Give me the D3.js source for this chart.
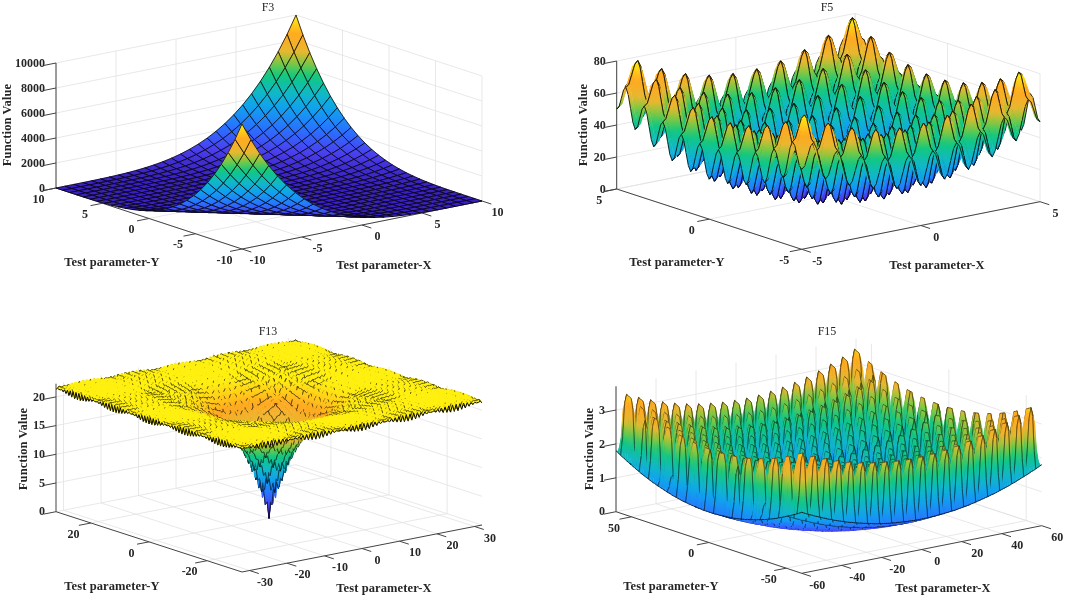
<!DOCTYPE html>
<html lang="en">
<head>
<meta charset="UTF-8">
<title>Benchmark surfaces</title>
<script src="https://d3js.org/d3.v7.min.js"></script>
<style>
    html, body {margin: 0; background: #fff;}
    #stage {position: relative; width: 1065px; height: 597px; overflow: hidden; filter: blur(.3px);}
    #stage svg, #stage canvas {position: absolute; left: 0; top: 0;}
    text {font-family: "Liberation Serif", serif; fill: #262626;}
    .tick {font-size: 12px; font-weight: bold;}
    .label {font-size: 12.5px; font-weight: bold; letter-spacing: .1px;}
    .title {font-size: 12px;}
</style>
</head>
<body>
<div id="stage"></div>
<script>
    const width = 1065;
    const height = 597;

    // F3: height against the distance from the valley diagonal (grid steps)
    const f3Profile = [0, 0, 0, 2, 5, 12, 24, 45, 77, 123, 188, 275, 390, 537, 723, 953, 1233, 1572, 1975, 2452, 3010, 3660, 4408, 5266, 6243, 7350, 8600, 10000];

    // F5: one axis cross-section, every 0.125 from the centre to the edge
    const f5Profile = [0, 2.9, 10.1, 17.2, 20.3, 17.5, 10.6, 3.7, 1, 4.2, 11.6, 19, 22.3, 19.7, 13.1, 6.5, 4, 7.5, 15.1, 22.7, 26.3, 24, 17.6, 11.2, 9, 12.7, 20.6, 28.5, 32.3, 30.2, 24.1, 18, 16, 20, 28.1, 36.2, 40.3, 38.5, 32.6, 26.7, 25];

    // F13: funnel height against radius, plus the ripple gain over one fold of the sampling beat
    const f13Radius = [0, 1, 2, 3, 4, 6, 8, 10, 12, 14, 16, 18, 20, 24, 28, 32];
    const f13Funnel = [0, 3.63, 6.59, 9.02, 11.01, 13.98, 15.96, 17.29, 18.19, 18.79, 19.18, 19.45, 19.63, 19.84, 19.93, 19.97];
    const f13Gain = [1.649, 0.609, 1.623, 0.628, 1.55, 0.667, 1.44, 0.727, 1.307, 0.808, 1.167, 0.911, 1.032];

    // F15: bowl cross-section and the tooth shape along each axis
    const f15Bowl = [0, 0, 0, 0, 0, .01, .01, .01, .02, .02, .03, .03, .04, .04, .05, .06, .06, .07, .08, .09, .1, .11, .12, .13, .14, .16, .17, .18, .2, .21, .23, .24, .26, .27, .29, .31, .32, .34, .36, .38, .4, .42, .44, .46, .48, .51, .53, .55, .58, .6, .63, .65, .68, .7, .73, .76, .78, .81, .84, .87, .9];
    const f15TeethX = [0, .3, .85, 1];
    const f15TeethY = [0, .3, .85, 1, 1, 1, 1, .85, .3, 0, .3, .85, 1, 1, 1, .85, .3, 0, .3, .85, 1, 1, 1, 1, .85, .3, 0, .3, .85, 1, 1];
    const f15ToothHeight = 1.85;

    const f3Ticks = [-10, -5, 0, 5, 10];
    const f3ZTicks = [0, 2000, 4000, 6000, 8000, 10000];
    const f5Ticks = [-5, 0, 5];
    const f5ZTicks = [0, 20, 40, 60, 80];
    const f13XTicks = [-30, -20, -10, 0, 10, 20, 30];
    const f13YTicks = [-20, 0, 20];
    const f13ZTicks = [0, 5, 10, 15, 20];
    const f15XTicks = [-60, -40, -20, 0, 20, 40, 60];
    const f15YTicks = [-50, 0, 50];
    const f15ZTicks = [0, 1, 2, 3];

    const colorStops = [0, .1, .22, .35, .45, .57, .66, .74, .86, 1];
    const colorValues = ["#3b22c0", "#4a40f0", "#2a70ff", "#10a0f0", "#10b8c8", "#10c880", "#80c840", "#e8b830", "#ffa820", "#fff010"];
    const palette = d3.scaleLinear().domain(colorStops).range(colorValues).interpolate(d3.interpolateRgb);

    const panels = [
        {
            title: "F3", titleAt: [268, 7], xAt: [384, 265], yAt: [112, 262], zAt: [7, 125],
            left: [56, 188], front: [242, 249], right: [482, 201], wall: 125,
            span: 10, zMax: 10000, colorMax: 10000, xTicks: f3Ticks, yTicks: f3Ticks, zTicks: f3ZTicks,
            half: 13.5, every: 1, lineWidth: .9,
            z: (i, j) => f3Profile[Math.abs(Math.round(i + j))]
        },
        {
            title: "F5", titleAt: [827, 7], xAt: [937, 265], yAt: [677, 262], zAt: [583, 125],
            left: [616.7, 189], front: [801.7, 249.3], right: [1040, 201.7], wall: 128,
            span: 5, zMax: 80, colorMax: 80.5, xTicks: f5Ticks, yTicks: f5Ticks, zTicks: f5ZTicks,
            half: 40, every: 4, lineWidth: .95,
            z: (i, j) => f5Profile[Math.abs(i)] + f5Profile[Math.abs(j)]
        },
        {
            title: "F13", titleAt: [268, 331], xAt: [384, 588], yAt: [112, 586], zAt: [23, 449],
            left: [56, 511.7], front: [242, 572], right: [482, 525], wall: 128,
            span: 32, zMax: 22.3, colorMax: 20.5, xTicks: f13XTicks, yTicks: f13YTicks, zTicks: f13ZTicks,
            half: 65, every: 4, lineWidth: .65, rim: 1,
            keep: (along, other) => fold(along, 25) >= 9 || Math.abs(along) % 3 === 0 || (Math.abs(along) < 14 && Math.abs(other) < 14),
            z: (i, j) => f13Height(i, j)
        },
        {
            title: "F15", titleAt: [827, 331], xAt: [943, 588], yAt: [671, 586], zAt: [589, 449],
            left: [616, 511.7], front: [801.7, 573.3], right: [1041.7, 525.7], wall: 125.4,
            span: 60, zMax: 3.7, colorMax: 3.7, xTicks: f15XTicks, yTicks: f15YTicks, zTicks: f15ZTicks,
            half: 60, every: 6, offset: 3, lineWidth: .55, rim: .8,
            z: (i, j) => f15Height(i, j)
        }
    ];

    const funnelAt = d3.scaleLinear().domain(f13Radius).range(f13Funnel);

    function fold(n, period) {
        const k = Math.abs(n) % period;
        return Math.min(k, period - k);
    }

    function f13Height(i, j) {
        const radius = Math.hypot(i * .48, j * .48) / Math.SQRT2;
        return funnelAt(radius) + 2.718 - f13Gain[fold(i, 25)] * f13Gain[fold(j, 25)];
    }

    function f15Height(i, j) {
        return f15Bowl[Math.abs(i)] + f15Bowl[Math.abs(j)] + f15ToothHeight * f15TeethX[fold(i, 6)] * f15TeethY[fold(j, 60)];
    }

    const stage = d3.select("#stage");
    const svg = stage.append("svg").attr("width", width).attr("height", height);
    const canvas = stage.append("canvas").attr("width", width).attr("height", height);
    const ctx = canvas.node().getContext("2d");

    // orthographic box: each data axis gets its own pair of screen scales
    function makeProjection(p) {
        const d = p.span;
        const xPx = d3.scaleLinear().domain([-d, d]).range([0, p.right[0] - p.front[0]]);
        const xPy = d3.scaleLinear().domain([-d, d]).range([0, p.right[1] - p.front[1]]);
        const yPx = d3.scaleLinear().domain([d, -d]).range([0, p.front[0] - p.left[0]]);
        const yPy = d3.scaleLinear().domain([d, -d]).range([0, p.front[1] - p.left[1]]);
        const zPy = d3.scaleLinear().domain([0, p.zMax]).range([0, -p.wall]);
        return (x, y, z) => [p.left[0] + xPx(x) + yPx(y), p.left[1] + xPy(x) + yPy(y) + zPy(z)];
    }

    function drawBox(p, project) {
        const g = svg.append("g").attr("class", "axes");
        const d = p.span;
        const line = d3.line();
        const grid = [];
        p.xTicks.forEach(t => grid.push([project(t, -d, 0), project(t, d, 0), project(t, d, p.zMax)]));
        p.yTicks.forEach(t => grid.push([project(-d, t, 0), project(d, t, 0), project(d, t, p.zMax)]));
        p.zTicks.forEach(t => grid.push([project(-d, d, t), project(d, d, t), project(d, -d, t)]));

        g.selectAll("path.grid").data(grid).enter().append("path")
            .attr("class", "grid")
            .attr("d", line)
            .style("fill", "none")
            .style("stroke", "#e2e2e2")
            .style("stroke-width", .8);

        const axes = [
            [project(-d, d, 0), project(-d, d, p.zMax)],
            [project(-d, d, 0), project(-d, -d, 0)],
            [project(-d, -d, 0), project(d, -d, 0)]
        ];
        g.selectAll("path.axis").data(axes).enter().append("path")
            .attr("class", "axis")
            .attr("d", line)
            .style("fill", "none")
            .style("stroke", "#444")
            .style("stroke-width", 1);

        // tick marks follow the neighbouring axis, as MATLAB draws them
        const marks = [];
        const out = .05;
        p.xTicks.forEach(t => marks.push([project(t, -d, 0), project(t, -d - 2 * d * out, 0)]));
        p.yTicks.forEach(t => marks.push([project(-d, t, 0), project(-d - 2 * d * out, t, 0)]));
        p.zTicks.forEach(t => marks.push([project(-d, d, t), project(-d - 2 * d * out, d, t)]));
        g.selectAll("path.mark").data(marks).enter().append("path")
            .attr("class", "mark")
            .attr("d", line)
            .style("fill", "none")
            .style("stroke", "#444")
            .style("stroke-width", 1);

        const tickText = (data, cls, at, anchor) => g.selectAll("text." + cls).data(data).enter().append("text")
            .attr("class", "tick " + cls)
            .attr("x", t => at(t)[0])
            .attr("y", t => at(t)[1])
            .attr("dy", ".35em")
            .attr("text-anchor", anchor)
            .text(t => t);

        tickText(p.xTicks, "xt", t => {
            const q = project(t, -d, 0);
            return [q[0] + 15.5, q[1] + 11];
        }, "middle");
        tickText(p.yTicks, "yt", t => {
            const q = project(-d, t, 0);
            return [q[0] - 17.5, q[1] + 10.5];
        }, "middle");
        tickText(p.zTicks, "zt", t => {
            const q = project(-d, d, t);
            return [q[0] - 11, q[1] - .5];
        }, "end");

        const label = (txt, at, cls, rotate) => g.append("text")
            .attr("class", cls)
            .attr("text-anchor", "middle")
            .attr("dy", ".35em")
            .attr("transform", `translate(${at})` + (rotate ? " rotate(-90)" : ""))
            .text(txt);

        label(p.title, p.titleAt, "title");
        label("Test parameter-X", p.xAt, "label");
        label("Test parameter-Y", p.yAt, "label");
        label("Function Value", p.zAt, "label", true);
    }

    // painter's order: the +x,+y corner is farthest from the viewer
    function drawSurface(p, project) {
        const n = p.half;
        const scale = p.span / n;
        const nodeRange = d3.range(-n, n + 1);
        const count = nodeRange.length;
        const colorOf = z => palette(Math.max(0, Math.min(1, z / p.colorMax)));
        const zs = nodeRange.map(i => nodeRange.map(j => p.z(i, j)));
        const pts = nodeRange.map((i, a) => nodeRange.map((j, b) => project(i * scale, j * scale, zs[a][b])));
        const onMesh = a => (Math.floor(a - n) + (p.offset || 0)) % p.every === 0;
        const keep = p.keep || (() => true);

        ctx.lineJoin = "round";
        for (let a = count - 2; a >= 0; a--) {
            for (let b = count - 2; b >= 0; b--) {
                const corners = [[a, b], [a + 1, b], [a + 1, b + 1], [a, b + 1]];
                const q = corners.map(c => pts[c[0]][c[1]]);
                const v = corners.map(c => zs[c[0]][c[1]]);
                const lo = d3.minIndex(v);
                const hi = d3.maxIndex(v);
                let style;
                if ((v[hi] - v[lo]) / p.colorMax < .03) {
                    style = colorOf(d3.mean(v));
                } else {
                    style = ctx.createLinearGradient(q[lo][0], q[lo][1], q[hi][0], q[hi][1]);
                    [0, .25, .5, .75, 1].forEach(t => style.addColorStop(t, colorOf(v[lo] + (v[hi] - v[lo]) * t)));
                }
                ctx.beginPath();
                ctx.moveTo(q[0][0], q[0][1]);
                ctx.lineTo(q[1][0], q[1][1]);
                ctx.lineTo(q[2][0], q[2][1]);
                ctx.lineTo(q[3][0], q[3][1]);
                ctx.closePath();
                ctx.fillStyle = style;
                ctx.fill();
                ctx.strokeStyle = style;
                ctx.lineWidth = .4;
                ctx.stroke();

                ctx.beginPath();
                const edge = (u, w) => {
                    ctx.moveTo(u[0], u[1]);
                    ctx.lineTo(w[0], w[1]);
                };
                const i = a - n;
                const j = b - n;
                if (onMesh(a) && keep(j, i)) edge(q[0], q[3]);
                if (onMesh(a + 1) && keep(j, i + 1)) edge(q[1], q[2]);
                if (onMesh(b) && keep(i, j)) edge(q[0], q[1]);
                if (onMesh(b + 1) && keep(i, j + 1)) edge(q[3], q[2]);
                ctx.strokeStyle = "rgba(0,0,0,.85)";
                ctx.lineWidth = p.lineWidth;
                ctx.stroke();

                // the two front rims carry a heavier outline
                if (p.rim && (a === 0 || b === 0)) {
                    ctx.beginPath();
                    if (a === 0) edge(q[0], q[3]);
                    if (b === 0) edge(q[0], q[1]);
                    ctx.strokeStyle = "#000";
                    ctx.lineWidth = p.rim;
                    ctx.stroke();
                }
            }
        }
    }

    panels.forEach(p => {
        const project = makeProjection(p);
        drawBox(p, project);
        drawSurface(p, project);
    });
</script>
</body>
</html>
